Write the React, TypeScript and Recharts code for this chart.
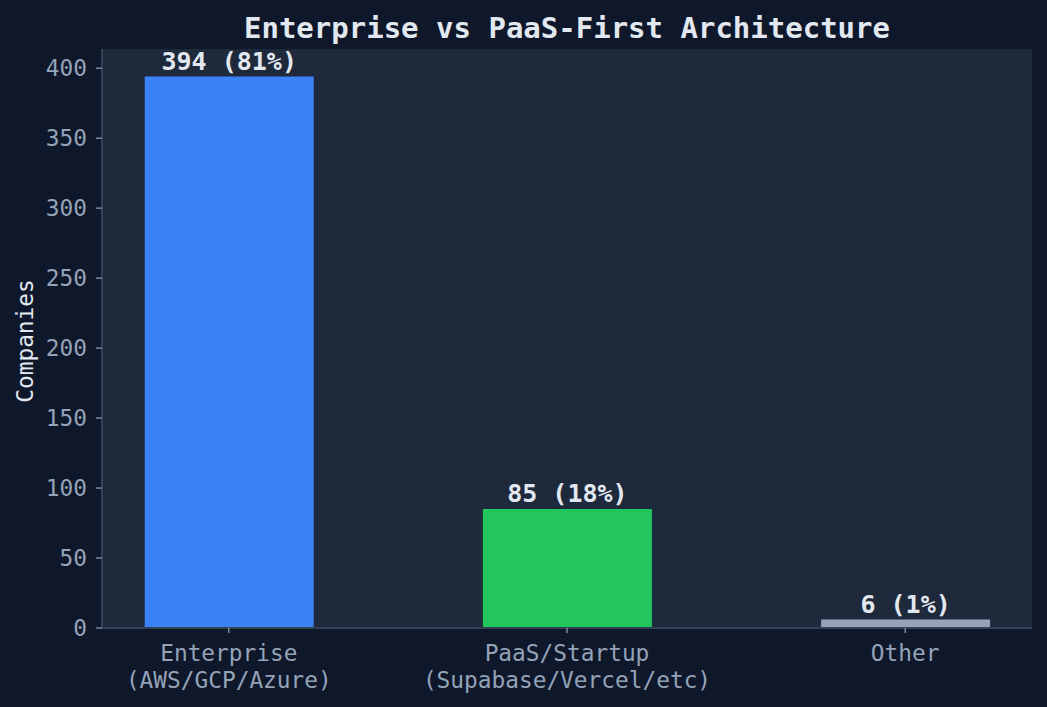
import React from 'react';
import { BarChart, Bar, XAxis, YAxis, CartesianGrid, Cell, LabelList, Label, Customized } from 'recharts';

const categories = ['Enterprise', 'PaaS/Startup', 'Other'];
const subtitles = ['(AWS/GCP/Azure)', '(Supabase/Vercel/etc)', ''];
const companies = [394, 85, 6];
const percents = [81, 18, 1];
const barColors = ['#3b82f6', '#22c55e', '#94a3b8'];
const yTicks = [0, 50, 100, 150, 200, 250, 300, 350, 400];

const data = categories.map((c, i) => ({
  idx: i,
  name: c,
  value: companies[i],
  label: `${companies[i]} (${percents[i]}%)`,
}));

const FONT = '"DejaVu Sans Mono", monospace';
const BG = '#0f172a';
const PLOT = '#1e293b';
const SPINE = '#334155';
const TICK = '#94a3b8';
const TEXT = '#e2e8f0';

const XTick = (props: any) => {
  const { x, payload } = props;
  const i = payload.value as number;
  const lines = [categories[i], subtitles[i]].filter((l) => l);
  return (
    <g>
      <text x={x} y={628} textAnchor="middle" fill={TICK} fontSize={22.8} fontFamily={FONT}>
        {lines.map((l, k) => (
          <tspan key={k} x={x} dy={k === 0 ? 33 : 26.5}>
            {l}
          </tspan>
        ))}
      </text>
    </g>
  );
};

const Title = () => (
  <text x={567} y={38} textAnchor="middle" fill={TEXT} fontSize={29} fontWeight="bold" fontFamily={FONT}>
    Enterprise vs PaaS-First Architecture
  </text>
);

export default function App() {
  return (
    <div style={{ position: 'absolute', left: 0, top: 0, width: 1047, height: 707, background: BG }}>
      <BarChart
        width={1047}
        height={707}
        data={data}
        margin={{ top: 49, right: 15, bottom: 0, left: 0 }}
      >
        <CartesianGrid horizontal={false} vertical={false} fill={PLOT} />
        <XAxis
          xAxisId="b"
          dataKey="idx"
          type="number"
          domain={[-0.375, 2.375]}
          ticks={[0, 1, 2]}
          height={79}
          tickSize={5}
          axisLine={{ stroke: SPINE, strokeWidth: 2 }}
          tickLine={{ stroke: TICK, strokeWidth: 1.2 }}
          tick={<XTick />}
          interval={0}
        />
        <XAxis
          xAxisId="t"
          dataKey="idx"
          type="number"
          orientation="top"
          domain={[-0.375, 2.375]}
          height={0}
          tick={false}
          tickLine={false}
          axisLine={{ stroke: SPINE, strokeWidth: 2 }}
        />
        <YAxis
          yAxisId="l"
          type="number"
          domain={[0, 413.7]}
          ticks={yTicks}
          width={102}
          tickSize={6}
          tickMargin={9}
          axisLine={{ stroke: SPINE, strokeWidth: 2 }}
          tickLine={{ stroke: TICK, strokeWidth: 1.2 }}
          tick={{ fill: TICK, fontSize: 22.8, fontFamily: FONT }}
          interval={0}
        >
          <Label
            content={() => (
              <text
                x={33}
                y={341}
                transform="rotate(-90 33 341)"
                textAnchor="middle"
                fill={TEXT}
                fontSize={22.8}
                fontFamily={FONT}
              >
                Companies
              </text>
            )}
          />
        </YAxis>
        <YAxis
          yAxisId="r"
          type="number"
          orientation="right"
          domain={[0, 413.7]}
          width={0}
          tick={false}
          tickLine={false}
          axisLine={{ stroke: SPINE, strokeWidth: 2 }}
        />
        <Bar dataKey="value" xAxisId="b" yAxisId="l" barSize={169} isAnimationActive={false}>
          {data.map((d, i) => (
            <Cell key={d.name} fill={barColors[i]} />
          ))}
          <LabelList
            dataKey="label"
            position="top"
            offset={7}
            fill={TEXT}
            fontSize={25}
            fontWeight="bold"
            fontFamily={FONT}
          />
        </Bar>
        <Customized component={Title} />
      </BarChart>
    </div>
  );
}
